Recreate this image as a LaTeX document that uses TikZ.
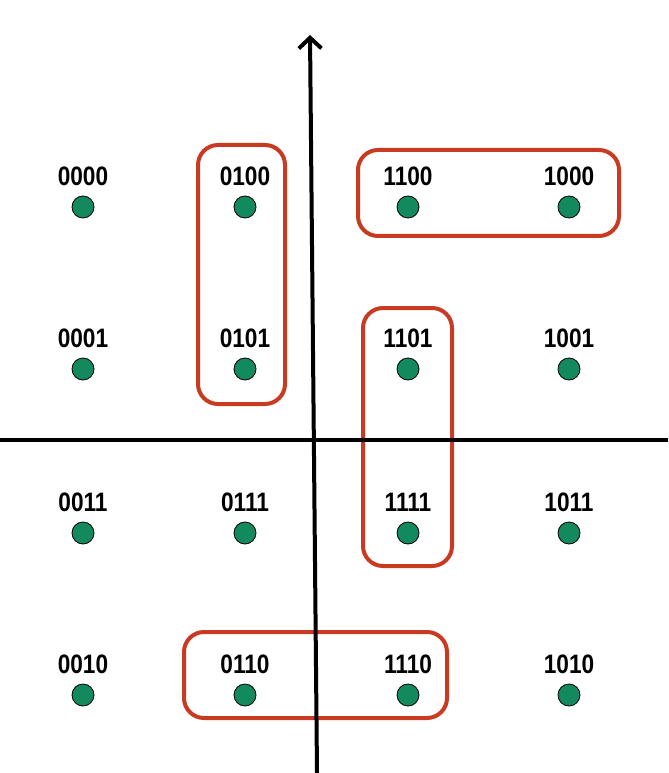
\documentclass[tikz,border=0pt]{standalone}
\usepackage{fontspec}
\newfontfamily\bitfont[FakeStretch=0.85]{Liberation Sans}
\usepackage{tikz}
\usetikzlibrary{positioning,arrows.meta}
\definecolor{dotgreen}{HTML}{138A5E}
\definecolor{boxred}{HTML}{C93A22}

\begin{document}
\begin{tikzpicture}[ x=0.75pt, y=-0.75pt,
		 								line width = 3pt,
										point/.style={circle,draw=black,fill=dotgreen,line width=0.6pt,minimum size=16.5pt,inner sep=0pt},
										bits/.style={font=\bitfont\bfseries\fontsize{20}{24}\selectfont,inner sep=0pt,above=6pt of #1},
										group/.style={draw=boxred,line width=3pt,rounded corners=15pt}]

		\useasboundingbox (0,0) rectangle (668,773);

		% groups
		\draw[group] (198,145) rectangle (285,404);
		\draw[group] (358,150) rectangle (619,236);
		\draw[group] (363,308) rectangle (452,566);
		\draw[group] (184,632) rectangle (447,718);

		% axes
		\coordinate (ytop) at (310,35);
		\coordinate (ybot) at (317,773);
		\coordinate (xleft) at (0,440);
		\coordinate (xright) at (668,440);
		\draw[-{Straight Barb[length=8pt,width=17pt]}] (ybot) -- (ytop);
		\draw (xleft) -- (xright);

		% points
		\node[point] (d0000) at (83,207) {};
		\node[point] (d0100) at (245,207) {};
		\node[point] (d1100) at (408,207) {};
		\node[point] (d1000) at (569,207) {};
		\node[point] (d0001) at (83,369) {};
		\node[point] (d0101) at (245,369) {};
		\node[point] (d1101) at (408,369) {};
		\node[point] (d1001) at (569,369) {};
		\node[point] (d0011) at (83,533) {};
		\node[point] (d0111) at (245,533) {};
		\node[point] (d1111) at (408,533) {};
		\node[point] (d1011) at (569,533) {};
		\node[point] (d0010) at (83,695) {};
		\node[point] (d0110) at (245,695) {};
		\node[point] (d1110) at (408,695) {};
		\node[point] (d1010) at (569,695) {};

		% labels
		\foreach \b in {0000,0100,1100,1000,0001,0101,1101,1001,0011,0111,1111,1011,0010,0110,1110,1010}
			\node[bits=d\b] (l\b) {\b};

		\end{tikzpicture}
\end{document}
